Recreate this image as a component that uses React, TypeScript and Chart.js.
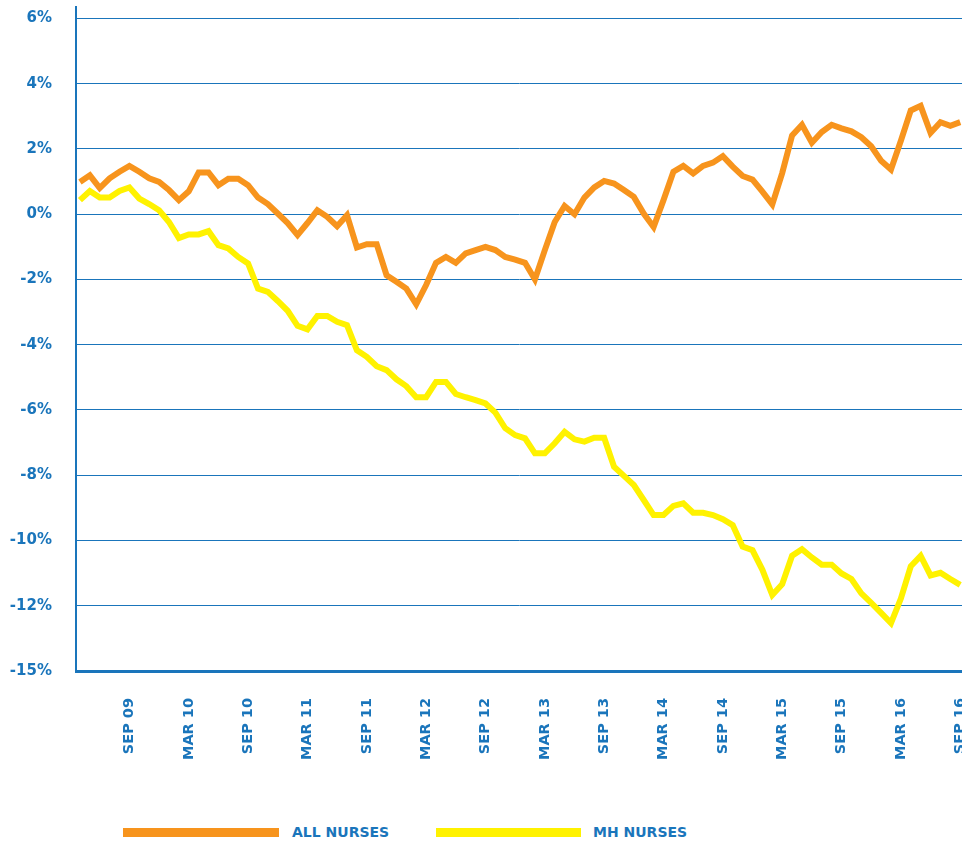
import React, { useEffect, useRef } from "react";
import { Chart, registerables } from "chart.js";

Chart.register(...registerables);

const BLUE = "#1a75bb";
const ORANGE = "#f7941d";
const YELLOW = "#fff200";
const FONT = "'DejaVu Sans', sans-serif";

// Monthly categories, April 2009 to September 2016
const monthNames = ["JAN", "FEB", "MAR", "APR", "MAY", "JUN", "JUL", "AUG", "SEP", "OCT", "NOV", "DEC"];
const categories: string[] = [];
for (let i = 0; i < 90; i++) {
  const m = (3 + i) % 12;
  const y = 2009 + Math.floor((3 + i) / 12);
  categories.push(monthNames[m] + " " + String(y % 100).padStart(2, "0"));
}

const xTickLabels = [
  "SEP 09", "MAR 10", "SEP 10", "MAR 11", "SEP 11", "MAR 12", "SEP 12", "MAR 13",
  "SEP 13", "MAR 14", "SEP 14", "MAR 15", "SEP 15", "MAR 16", "SEP 16",
];

const allNurses = [
  0.99, 1.19, 0.8, 1.1, 1.3, 1.48, 1.3, 1.1, 0.99, 0.74, 0.43, 0.7, 1.28,
  1.28, 0.89, 1.09, 1.09, 0.89, 0.51, 0.31, 0.02, -0.27, -0.64, -0.27, 0.12, -0.08, -0.37, -0.03, -1.02, -0.92, -0.92,
  -1.87, -2.07, -2.28, -2.76, -2.17, -1.49, -1.31, -1.49, -1.2, -1.1, -1.0, -1.1, -1.31, -1.39, -1.49, -2.0,
  -1.1, -0.24, 0.25, 0.0, 0.51, 0.82, 1.02, 0.94, 0.74, 0.53, 0.02, -0.39, 0.43, 1.3, 1.48, 1.25, 1.48, 1.58,
  1.78, 1.46, 1.17, 1.06, 0.69, 0.3, 1.26, 2.41, 2.74, 2.19, 2.52, 2.74, 2.63, 2.54, 2.36, 2.08, 1.64, 1.37,
  2.25, 3.18, 3.32, 2.49, 2.82, 2.71, 2.82,
];

const mhNurses = [
  0.43, 0.71, 0.51, 0.51, 0.71, 0.82, 0.48, 0.31, 0.12, -0.24,
  -0.73, -0.62, -0.62, -0.52, -0.95, -1.05, -1.31, -1.51, -2.28, -2.38, -2.66, -2.96, -3.42, -3.53, -3.12, -3.12,
  -3.3, -3.4, -4.17, -4.37, -4.66,
  -4.78, -5.06, -5.27, -5.61, -5.61, -5.14, -5.14, -5.51, -5.61, -5.7, -5.8, -6.08, -6.56, -6.77, -6.87, -7.33, -7.33,
  -7.02, -6.67, -6.9, -6.97, -6.85, -6.85, -7.74, -8.02, -8.3, -8.76, -9.22, -9.22, -8.94, -8.86, -9.15, -9.15, -9.22,
  -9.35, -9.53, -10.19, -10.3, -10.9, -11.67, -11.34, -10.47, -10.27, -10.52, -10.74, -10.74, -11.01, -11.18,
  -11.62, -11.91, -12.22, -12.53, -11.78, -10.79, -10.47, -11.07, -10.99, -11.18, -11.36,
];

const yTicks = [6, 4, 2, 0, -2, -4, -6, -8, -10, -12, -14];
const yTickLabels = ["6%", "4%", "2%", "0%", "-2%", "-4%", "-6%", "-8%", "-10%", "-12%", "-15%"];

const seriesNames = ["ALL NURSES", "MH NURSES"];

export default function App() {
  const ref = useRef<HTMLCanvasElement>(null);

  useEffect(() => {
    if (!ref.current) return;
    const xTickIdx = xTickLabels.map((l) => categories.indexOf(l));
    const xFont = { family: FONT, weight: "bold" as const, size: 14.5 };
    const yFont = { family: FONT, weight: "bold" as const, size: 15 };
    const chart = new Chart(ref.current, {
      type: "line",
      data: {
        datasets: [
          {
            label: seriesNames[1],
            data: mhNurses.map((v, i) => ({ x: i, y: v })),
            borderColor: YELLOW,
            backgroundColor: YELLOW,
            borderWidth: 6,
            pointRadius: 0,
            fill: false,
            tension: 0,
          },
          {
            label: seriesNames[0],
            data: allNurses.map((v, i) => ({ x: i, y: v })),
            borderColor: ORANGE,
            backgroundColor: ORANGE,
            borderWidth: 6,
            pointRadius: 0,
            fill: false,
            tension: 0,
          },
        ],
      },
      options: {
        animation: false,
        responsive: false,
        maintainAspectRatio: false,
        devicePixelRatio: 1,
        layout: { padding: { top: 7, left: 0, right: 0, bottom: 0 } },
        plugins: { legend: { display: false }, tooltip: { enabled: false } },
        scales: {
          x: {
            type: "linear",
            min: -0.4,
            max: 89.18,
            grid: { display: false, drawTicks: false },
            border: { display: true, color: BLUE, width: 3 },
            afterBuildTicks: (s: any) => {
              s.ticks = xTickIdx.map((v) => ({ value: v }));
            },
            afterFit: (s: any) => {
              s.height = 119;
              s.paddingLeft = 0;
              s.paddingRight = 0;
            },
            ticks: {
              autoSkip: false,
              minRotation: 90,
              maxRotation: 90,
              padding: 27,
              color: BLUE,
              font: xFont,
              callback: (v: any) => categories[v] ?? "",
            },
          },
          y: {
            min: -14,
            max: 6.35,
            afterBuildTicks: (s: any) => {
              s.ticks = yTicks.map((v) => ({ value: v }));
            },
            afterFit: (s: any) => {
              s.width = 76;
              s.paddingTop = 0;
              s.paddingBottom = 0;
            },
            grid: { color: BLUE, lineWidth: 1, drawTicks: false },
            border: { display: true, color: BLUE, width: 2 },
            ticks: {
              padding: 24,
              color: BLUE,
              font: yFont,
              callback: (v: any) => {
                const k = yTicks.indexOf(v);
                return k >= 0 ? yTickLabels[k] : "";
              },
            },
          },
        },
      },
    });
    return () => chart.destroy();
  }, []);

  const textStyle: React.CSSProperties = {
    position: "absolute",
    fontFamily: FONT,
    fontWeight: "bold",
    fontSize: 14,
    color: BLUE,
    lineHeight: "16px",
    top: 824,
    whiteSpace: "nowrap",
  };

  return (
    <div style={{ position: "fixed", left: 0, top: 0, width: 962, height: 841, background: "#fff" }}>
      <canvas ref={ref} width={962} height={790} style={{ display: "block", width: 962, height: 790 }} />
      <div style={{ position: "absolute", left: 123, top: 828, width: 156, height: 9, background: ORANGE }} />
      <div style={{ ...textStyle, left: 292 }}>{seriesNames[0]}</div>
      <div style={{ position: "absolute", left: 436, top: 828, width: 145, height: 9, background: YELLOW }} />
      <div style={{ ...textStyle, left: 593 }}>{seriesNames[1]}</div>
    </div>
  );
}
